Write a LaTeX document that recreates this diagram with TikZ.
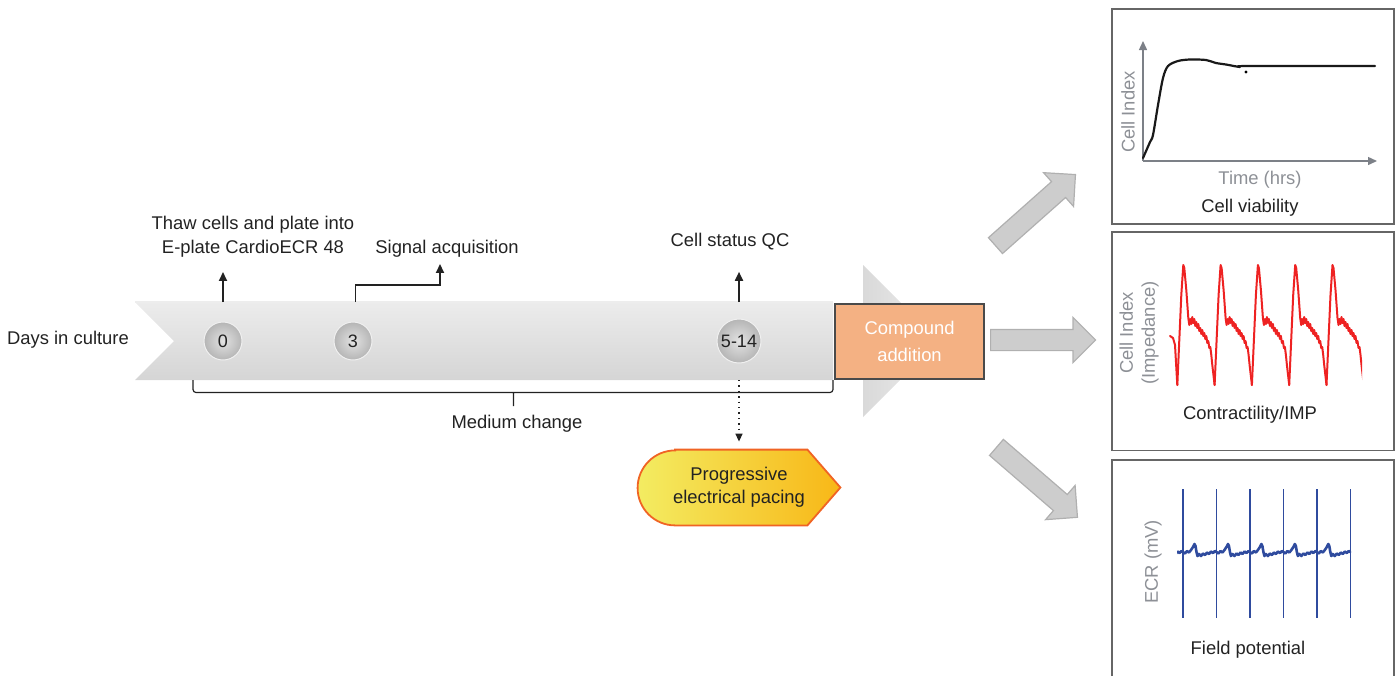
\documentclass[tikz,border=0pt]{standalone}
\usepackage{fontspec}
\setmainfont{Liberation Sans}
\usetikzlibrary{arrows.meta,shapes.arrows,positioning}
\definecolor{txtdark}{HTML}{222222}
\definecolor{axisgray}{HTML}{7C8087}
\definecolor{lblgray}{HTML}{8D9096}
\definecolor{bandtop}{HTML}{ECECEC}
\definecolor{bandbot}{HTML}{D5D5D5}
\definecolor{trilight}{HTML}{EDEDED}
\definecolor{tridark}{HTML}{D9D9D9}
\definecolor{compfill}{HTML}{F4B183}
\definecolor{boxedge}{HTML}{4A4A4A}
\definecolor{arrowfill}{HTML}{CDCDCD}
\definecolor{arrowedge}{HTML}{B0B0B0}
\definecolor{panelgray}{HTML}{666666}
\definecolor{tracered}{HTML}{EE2222}
\definecolor{traceblue}{HTML}{2F4B9E}
\definecolor{pacyel}{HTML}{F3EC62}
\definecolor{pacorg}{HTML}{F8B717}
\definecolor{pacedge}{HTML}{F06424}
\tikzset{
  txtlbl/.style={font=\fontsize{9.2}{12}\selectfont, text=txtdark, align=center, inner sep=0pt},
  graylbl/.style={txtlbl, text=lblgray},
  dayball/.style={circle, inner color=gray!22, outer color=gray!58, draw=gray!12, line width=0.5pt,
    minimum size=19pt, inner sep=0pt, font=\fontsize{9}{10}\selectfont, text=txtdark},
  uparrow/.style={-{Triangle[length=4.5pt,width=4pt]}, line width=0.9pt, draw=txtdark},
  dotarrow/.style={-{Triangle[length=4pt,width=3.5pt]}, line width=0.7pt, dotted, draw=txtdark},
  compbox/.style={draw=boxedge, fill=compfill, line width=0.7pt, minimum width=74.5pt,
    minimum height=37.5pt, text=white, align=center, font=\fontsize{9.2}{13.5}\selectfont},
  blockarrow/.style={single arrow, draw=arrowedge, fill=arrowfill, line width=0.6pt, inner sep=5pt,
    single arrow head extend=6pt, single arrow head indent=0pt, anchor=tail},
  panelbox/.style={draw=panelgray, line width=0.7pt},
  axisline/.style={draw=axisgray, line width=0.7pt, -{Triangle[length=4.5pt,width=4pt]}},
  trace/.style={line join=round, line cap=round}
}
\begin{document}
\begin{tikzpicture}[x=0.5pt,y=-0.5pt]
  \useasboundingbox (0,0) rectangle (1398,676);
  % timeline band
  \shade[top color=bandtop, bottom color=bandbot] (135,302) -- (833,302) -- (833,380) -- (135,380) -- (174,341) -- cycle;
  \draw[white!93!black, line width=0.6pt] (135,302) -- (833,302);
  \shade[left color=tridark, right color=trilight] (863,265) -- (939,341) -- (863,417) -- cycle;
  \coordinate (bandN) at (0,302);
  \coordinate (bandS) at (0,380);
  \node[txtlbl] (days) at (68,340) {Days in culture};
  % days
  \node[dayball] (d0) at (223,341) {0};
  \node[dayball] (d3) at (353,341) {3};
  \node[dayball, minimum size=22pt] (d14) at (739,341) {5-14};
  % events
  \node[txtlbl] (thaw) at (253,237) {Thaw cells and plate into\\E-plate CardioECR 48};
  \node[txtlbl] (signal) at (447,249) {Signal acquisition};
  \node[txtlbl] (qc) at (730,242) {Cell status QC};
  \draw[uparrow, shorten >=7pt] (d0 |- bandN) -- (d0 |- thaw.south);
  \draw[uparrow, shorten >=3pt] (355.5,302) -- ++(0,-17) -| ([xshift=-3.5pt]signal.south);
  \draw[uparrow, shorten >=10.5pt] (d14 |- bandN) -- (d14 |- qc.south);
  % medium change
  \draw[txtdark, line width=0.6pt, rounded corners=1.5pt] (193,380) -- (193,392.5) -- (833,392.5) -- (833,380)
    (513.5,392.5) -- (513.5,406);
  \node[txtlbl] (medium) at (517,424) {Medium change};
  % pacing
  \node[txtlbl, minimum width=101pt, minimum height=37.5pt, text=txtdark!90] (pacing) at (739,487.5) {};
  \shade[left color=pacyel, right color=pacorg, draw=pacedge, line width=0.9pt]
    ([xshift=18.75pt]pacing.north west) -- ([xshift=-16.5pt]pacing.north east) -- (pacing.east)
    -- ([xshift=-16.5pt]pacing.south east) -- ([xshift=18.75pt]pacing.south west)
    arc[start angle=-90, end angle=-270, radius=18.75pt] -- cycle;
  \node[txtlbl, font=\fontsize{9.2}{11.5}\selectfont] at (pacing) {Progressive\\electrical pacing};
  \draw[dotarrow, shorten >=4pt] (d14 |- bandS) -- (pacing.north);
  % compound
  \node[compbox] (compound) at (909.5,341.5) {Compound\\addition};
  \node[blockarrow, rotate=41.6, minimum height=53.5pt] (toviab) at (995,246) {};
  \node[blockarrow, minimum height=52.5pt] (tocontr) at (990,340) {};
  \node[blockarrow, rotate=-40.8, minimum height=53.5pt] (tofield) at (996,447) {};
  % panels
  \node[panelbox, minimum width=141pt, minimum height=107.5pt] (viab) at (1253,116.5) {};
  \node[panelbox, minimum width=141pt, minimum height=109.3pt] (contr) at (1253,341.3) {};
  \draw[panelbox] (1112,676) -- (1112,460) -- (1394,460) -- (1394,676);
  % cell viability
  \draw[axisline] (1143,161) -- (1143,41);
  \draw[axisline] (1143,161) -- (1377,161);
  \draw[trace, line width=1.1pt, black!90] plot[smooth] coordinates {(1143,158) (1150,142) (1153,135)
    (1158,105) (1163,78) (1168,66) (1178,61) (1190,59.5) (1206,60) (1216,63) (1226,64.5) (1240,67)
    (1247,66) (1375,66)};
  \fill[black] (1246,72) circle (0.8pt);
  \node[graylbl, rotate=90] (ciy) at (1128,112) {Cell Index};
  \node[graylbl] (timex) at (1260,180) {Time (hrs)};
  \node[txtlbl] (viabt) at (1250,208) {Cell viability};
  % contractility
  \begin{scope}
    \clip (1160,250) rectangle (1362,400);
    \draw[trace, tracered, line width=1pt] (1170,336) -- (1173,338) -- (1175,345) -- (1177.3,385);
    \foreach \xd in {1177.3,1214.6,1251.9,1289.2,1326.5}
      \draw[trace, tracered, line width=1pt, shift={(\xd,0)}] plot coordinates {(0,385) (2,340) (4,295)
        (6,265) (7,268) (9,290) (11,318) (12,325) (13,319) (14,324) (15,317) (16,323) (17,319) (18,326)
        (19,322) (20,328) (21,324) (22,331) (23,328) (24,334) (25,330) (26,336) (27,333) (28,339)
        (29,336) (30,343) (31,341) (32,348) (33,347) (34,355) (35,365) (37.3,385)};
  \end{scope}
  \node[graylbl, rotate=90, font=\fontsize{9.2}{11}\selectfont] (ciimp) at (1139,333) {Cell Index\\(Impedance)};
  \node[txtlbl] (contrt) at (1250,415) {Contractility/IMP};
  % field potential
  \begin{scope}
    \clip (1177,480) rectangle (1351,630);
    \foreach \xs in {1149.55,1183,1216.45,1249.9,1283.35,1316.8}
      \draw[trace, traceblue, line width=1.3pt, shift={(\xs,0)}] plot coordinates {(0,552) (2,553.5)
        (4,551) (6,552.5) (8,550) (10,547) (11.5,544) (12.5,546) (13.5,552) (14.5,556) (16,554) (18,556)
        (20,553.5) (22,555) (24,552.5) (26,554) (28,551.5) (30,553) (32,551) (33.45,552)};
  \end{scope}
  \foreach \k in {0,...,5}
    \draw[traceblue, line width=0.7pt] ({1183+33.45*\k},489) -- ({1183+33.45*\k},618);
  \node[graylbl, rotate=90] (ecr) at (1153,562) {ECR (mV)};
  \node[txtlbl] (fieldt) at (1248,650) {Field potential};
\end{tikzpicture}
\end{document}
